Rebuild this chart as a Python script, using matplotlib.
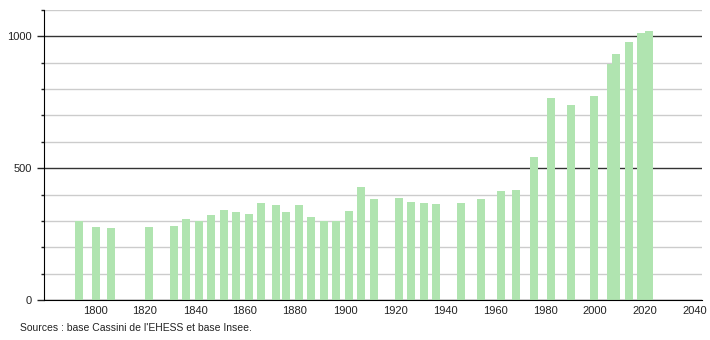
import matplotlib
matplotlib.use("Agg")
import matplotlib.pyplot as plt
from matplotlib.ticker import MultipleLocator

years = [1793, 1800, 1806, 1821, 1831, 1836, 1841, 1846, 1851, 1856,
         1861, 1866, 1872, 1876, 1881, 1886, 1891, 1896, 1901, 1906,
         1911, 1921, 1926, 1931, 1936, 1946, 1954, 1962, 1968, 1975,
         1982, 1990, 1999, 2006, 2008, 2013, 2018, 2021]
population = [300, 278, 275, 278, 282, 306, 300, 321, 343, 335,
              327, 369, 362, 335, 362, 316, 300, 300, 339, 427,
              383, 388, 373, 367, 364, 369, 382, 414, 419, 544,
              765, 741, 773, 897, 933, 977, 1013, 1022]
x_ticks = list(range(1800, 2041, 20))
source_text = "Sources : base Cassini de l'EHESS et base Insee."

plt.rcParams["font.family"] = ["Liberation Sans", "DejaVu Sans"]

fig = plt.figure(figsize=(7.1, 3.4), dpi=100)
ax = fig.add_axes([44 / 710, 40 / 340, 658 / 710, 290 / 340])

ax.bar([y + 0.4 for y in years], population, width=3.2, color="#b0e4b0", zorder=3)

ax.set_xlim(1779.6, 2042.8)
ax.set_ylim(0, 1100)

ax.yaxis.set_major_locator(MultipleLocator(500))
ax.yaxis.set_minor_locator(MultipleLocator(100))
ax.grid(which="major", axis="y", color="#333333", linewidth=1, zorder=1)
ax.grid(which="minor", axis="y", color="#cccccc", linewidth=1, zorder=1)
ax.set_xticks(x_ticks)

ax.tick_params(axis="x", length=0, pad=4, labelsize=8, colors="#222222")
ax.tick_params(axis="y", which="major", length=5, width=1, pad=4, labelsize=8, colors="#222222")
ax.tick_params(axis="y", which="minor", length=2, width=1, color="#222222")

for side in ["top", "right"]:
    ax.spines[side].set_visible(False)
ax.spines["left"].set_color("black")
ax.spines["bottom"].set_color("black")
ax.spines["left"].set_zorder(4)
ax.spines["bottom"].set_zorder(4)

fig.text(20 / 710, 1 - 328 / 340, source_text, fontsize=7.5, color="#222222",
         va="center", ha="left")

fig.savefig("out.png", dpi=100)
